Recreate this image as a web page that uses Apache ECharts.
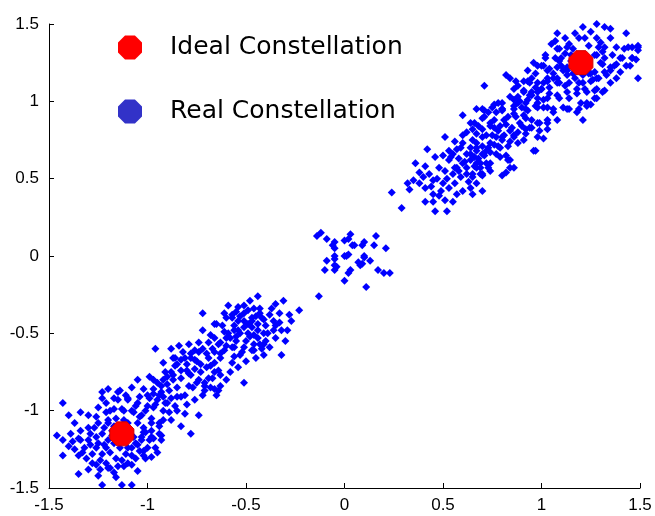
<!DOCTYPE html>
<html>
<head>
<meta charset="utf-8">
<script src="https://cdn.jsdelivr.net/npm/echarts@6/dist/echarts.min.js"></script>
<style>
  html, body { margin: 0; padding: 0; background: #ffffff; }
  #chart { width: 655px; height: 516px; }
</style>
</head>
<body>
<div id="chart"></div>
<script>
// Axis range and tick spacing (same on both axes)
const axisMin = -1.5;
const axisMax = 1.5;
const tickStep = 0.5;

// Series names shown in the legend
const seriesNames = ['Ideal Constellation', 'Real Constellation'];

// Ideal constellation points [I, Q]
const idealPoints = [[-1.13, -1.15], [1.20, 1.25]];

// Received symbols, lower-left group
const lowerCluster = [
  [-0.13,-0.26],[-0.23,-0.35],[-0.44,-0.26],[-0.35,-0.31],[-0.31,-0.29],[-0.33,-0.37],[-0.59,-0.32],[-0.54,-0.33],
  [-0.51,-0.32],[-0.48,-0.29],[-0.46,-0.34],[-0.43,-0.34],[-0.66,-0.44],[-0.57,-0.38],[-0.51,-0.37],[-0.51,-0.42],
  [-0.47,-0.42],[-0.42,-0.40],[-0.36,-0.42],[-0.33,-0.43],[-0.36,-0.48],[-0.32,-0.48],[-0.29,-0.48],[-0.41,-0.50],
  [-0.44,-0.53],[-0.40,-0.55],[-0.46,-0.57],[-0.38,-0.59],[-0.51,-0.59],[-0.46,-0.61],[-0.53,-0.50],[-0.56,-0.48],
  [-0.58,-0.53],[-0.61,-0.49],[-0.63,-0.56],[-0.66,-0.53],[-0.57,-0.59],[-0.63,-0.63],[-0.51,-0.46],[-0.47,-0.46],
  [-0.54,-0.42],[-0.32,-0.64],[-0.41,-0.64],[-0.53,-0.64],
  [-0.72,-0.37],[-0.57,-0.40],[-0.65,-0.44],[-0.56,-0.45],[-0.47,-0.40],[-0.44,-0.44],[-0.41,-0.41],[-0.72,-0.48],
  [-0.68,-0.51],[-0.59,-0.50],[-0.54,-0.48],[-0.49,-0.50],[-0.46,-0.51],[-0.41,-0.57],[-0.74,-0.56],[-0.79,-0.57],
  [-0.84,-0.58],[-0.96,-0.60],[-0.88,-0.60],[-0.76,-0.61],[-0.72,-0.60],[-0.64,-0.57],[-0.61,-0.61],[-0.56,-0.59],
  [-0.52,-0.62],[-0.47,-0.61],[-0.86,-0.66],[-0.81,-0.66],[-0.76,-0.67],[-0.69,-0.66],[-0.66,-0.69],[-0.63,-0.66],
  [-0.57,-0.69],[-0.54,-0.72],[-0.92,-0.69],[-0.91,-0.75],[-0.87,-0.77],[-0.83,-0.74],[-0.79,-0.76],[-0.76,-0.73],
  [-0.73,-0.75],[-0.70,-0.72],[-0.66,-0.75],[-0.63,-0.77],[-0.51,-0.82],[-0.97,-0.80],[-0.93,-0.84],[-0.89,-0.87],
  [-0.85,-0.85],[-0.79,-0.84],[-0.71,-0.82],[-0.68,-0.85],[-0.64,-0.87],[-0.71,-0.87],[-0.65,-0.90],[-0.63,-0.84],
  [-0.67,-0.79],[-0.97,-0.89],[-0.92,-0.91],[-0.85,-0.91],[-0.81,-0.90],[-0.78,-0.77],
  [-0.87,-0.66],[-0.83,-0.67],[-0.78,-0.66],[-0.73,-0.70],[-0.68,-0.71],[-0.64,-0.74],[-0.88,-0.75],[-0.80,-0.74],
  [-0.92,-0.80],[-0.87,-0.80],[-0.83,-0.79],[-0.75,-0.82],[-0.71,-0.84],[-0.66,-0.86],[-0.69,-0.79],[-1.20,-0.86],
  [-1.14,-0.87],[-1.08,-0.85],[-1.02,-0.86],[-0.97,-0.86],[-0.93,-0.88],[-0.88,-0.92],[-0.83,-0.91],[-1.23,-0.92],
  [-1.15,-0.93],[-1.10,-0.92],[-1.05,-0.95],[-1.00,-0.97],[-0.96,-0.96],[-0.89,-1.01],[-0.85,-1.00],[-0.81,-1.02],
  [-0.74,-1.03],[-0.88,-1.06],[-0.83,-1.10],[-0.78,-1.15],[-1.21,-1.01],[-1.17,-0.99],[-1.12,-1.00],[-1.07,-1.01],
  [-1.03,-1.03],[-0.98,-1.05],[-0.94,-1.10],[-1.20,-1.06],[-1.05,-1.08],[-1.02,-1.14],[-0.98,-1.17],[-1.03,-1.19],
  [-0.93,-1.16],
  [-1.43,-0.95],[-1.46,-1.16],[-1.43,-1.19],[-1.43,-1.29],[-1.37,-1.08],[-1.34,-1.13],[-1.30,-1.11],[-1.26,-1.04],
  [-1.25,-1.08],[-1.23,-1.15],[-1.35,-1.18],[-1.30,-1.19],[-1.26,-1.17],[-1.32,-1.24],[-1.26,-1.24],[-1.22,-1.22],
  [-1.20,-1.19],[-1.37,-1.25],[-1.31,-1.31],[-1.28,-1.34],[-1.23,-1.28],[-1.19,-1.27],[-1.16,-1.31],[-1.12,-1.36],
  [-1.08,-1.29],[-1.04,-1.26],[-1.10,-1.24],[-1.06,-1.21],[-1.03,-1.17],[-0.99,-1.19],[-0.98,-1.13],[-1.02,-1.11],
  [-0.98,-1.08],[-0.94,-1.08],[-1.04,-1.04],[-1.08,-1.00],[-1.13,-0.99],[-1.19,-1.00],[-1.23,-0.88],[-1.15,-0.88],
  [-1.10,-0.93],[-1.04,-0.91],[-0.99,-0.92],[-0.94,-0.90],[-0.92,-1.00],[-0.94,-1.15],[-0.96,-1.24],[-1.01,-1.31],
  [-1.15,-1.17],[-1.18,-1.13],[-1.20,-1.37],[-1.11,-1.28],
  [-1.35,-1.41],[-1.23,-1.48],[-1.13,-1.48],[-1.08,-1.48],[-1.16,-1.43],[-1.25,-1.42],[-1.26,-1.35],[-1.19,-1.37],
  [-1.08,-1.35],[-0.98,-1.30],[-1.02,-1.29],
  [-1.40,-1.03],[-1.34,-1.01],[-1.30,-1.03],[-1.25,-0.98],[-1.21,-0.95],[-1.17,-0.92],[-1.11,-0.90],[-1.06,-0.97],
  [-1.01,-1.00],[-0.97,-0.98],[-0.91,-0.95],[-0.92,-1.06],[-1.34,-1.19],[-1.29,-1.15],[-1.25,-1.21],[-1.21,-1.24],
  [-1.28,-1.28],[-1.24,-1.32],[-1.21,-1.34],[-1.15,-1.36],[-1.10,-1.34],[-1.06,-1.31],[-1.02,-1.26],[-1.08,-1.24],
  [-1.05,-1.22],[-1.00,-1.24],[-0.95,-1.27],[-0.97,-1.18],[-0.93,-1.19],[-1.01,-1.14],[-1.20,-1.08],[-1.16,-1.05],
  [-1.12,-1.06],[-1.10,-1.08],[-1.17,-1.21],[-1.14,-1.24],[-1.35,-1.29],[-1.40,-1.23],[-1.39,-1.15],
  [-1.00,-0.90],[-0.95,-0.93],[-0.90,-0.95],[-0.86,-0.97],[-0.90,-0.83],[-0.95,-0.82],[-0.99,-0.78],[-1.05,-0.80],
  [-0.85,-0.70],[-0.80,-0.70],[-0.75,-0.68],[-0.70,-0.63],[-0.66,-0.62],[-0.60,-0.53],[-0.55,-0.55],[-0.50,-0.55],
  [-0.48,-0.52],[-0.44,-0.48],[-0.40,-0.45],[-0.38,-0.38],[-0.43,-0.37],[-0.49,-0.35],[-0.55,-0.36],[-0.60,-0.40],
  [-0.62,-0.45],[-0.69,-0.56],[-0.74,-0.62],[-0.78,-0.63],[-0.82,-0.62],[-0.86,-0.71],[-0.74,-0.80],[-0.77,-0.85],
  [-0.72,-0.90],[-0.76,-0.93],[-0.80,-0.96],[-0.90,-0.78],[-0.58,-0.75],[-0.60,-0.80],[-0.56,-0.65],[-0.50,-0.68],
  [-0.45,-0.66],[-0.42,-0.60],[-0.35,-0.53],[-0.30,-0.55],[-0.27,-0.42],[-0.37,-0.34],[-0.28,-0.38],
  [-1.17,-1.10],[-1.14,-1.12],[-1.09,-1.13],[-1.07,-1.17],[-1.12,-1.20],[-1.18,-1.16],[-1.22,-1.11],[-1.27,-1.11],
  [-1.29,-1.22],[-1.33,-1.27],[-1.24,-1.38],[-1.17,-1.40],[-1.13,-1.32],[-1.05,-1.39],[-1.30,-1.38],[-1.38,-1.20],
  [-0.49,-0.44],[-0.45,-0.39],[-0.39,-0.50],[-0.43,-0.57],[-0.55,-0.52],[-0.60,-0.58],[-0.67,-0.60],[-0.53,-0.39],
  [-0.61,-0.37],[-0.35,-0.45]
];

// Received symbols near the origin
const centerCluster = [
  [-0.14,0.13],[-0.12,0.15],[-0.09,0.11],[-0.06,0.07],[-0.05,0.05],[-0.05,0.09],[0.00,0.10],[0.02,0.11],
  [0.03,0.14],[0.04,0.07],[0.05,0.07],[0.09,0.07],[0.10,0.09],[0.16,0.13],[0.15,0.07],[0.21,0.05],
  [-0.09,-0.03],[-0.05,0.00],[-0.05,-0.02],[-0.05,-0.06],[-0.05,-0.09],[-0.10,-0.09],[-0.04,-0.07],[0.00,0.00],
  [0.02,0.01],[0.01,0.00],[0.03,-0.09],[0.02,-0.11],[0.07,-0.04],[0.08,-0.06],[0.10,-0.01],[0.10,0.00],
  [0.13,-0.03],[0.09,-0.05],[0.17,-0.09],[0.20,-0.11],[0.23,-0.11],[0.00,-0.16],[0.11,-0.20]
];

// Received symbols, upper-right group
const upperCluster = [
  [0.24,0.41],[0.29,0.31],[0.32,0.47],[0.35,0.49],[0.36,0.60],[0.41,0.58],[0.38,0.54],[0.42,0.69],
  [0.46,0.64],[0.50,0.65],[0.55,0.66],[0.59,0.70],[0.60,0.73],[0.40,0.51],[0.43,0.53],[0.45,0.49],
  [0.41,0.44],[0.45,0.40],[0.48,0.39],[0.41,0.35],[0.45,0.35],[0.51,0.36],[0.55,0.35],[0.46,0.29],
  [0.52,0.29],[0.48,0.57],[0.51,0.55],[0.55,0.53],[0.56,0.57],[0.60,0.60],[0.59,0.51],[0.62,0.53],
  [0.50,0.47],[0.53,0.44],[0.56,0.47],[0.60,0.42],[0.64,0.44],[0.67,0.47],[0.65,0.53],[0.69,0.57],
  [0.70,0.53],[0.70,0.42],[0.64,0.62],[0.67,0.68],[0.64,0.70],[0.70,0.66],[0.74,0.73],[0.74,0.60],
  [0.53,0.62],[0.65,0.40],
  [0.60,0.91],[0.64,0.86],[0.62,0.80],[0.67,0.79],[0.70,0.95],[0.71,0.90],[0.74,0.86],[0.80,0.99],
  [0.77,0.93],[0.80,0.95],[0.83,0.90],[0.76,0.83],[0.78,0.81],[0.77,0.77],[0.81,0.78],[0.84,0.81],
  [0.86,0.77],[0.88,1.03],[0.90,0.96],[0.91,0.91],[0.92,0.99],[0.95,1.04],[0.98,1.06],[1.01,1.01],
  [0.97,0.97],[0.94,0.83],[0.99,0.86],[1.03,0.86],[0.89,0.86],[0.70,0.71],[0.74,0.67],[0.79,0.70],
  [0.67,0.73],[0.64,0.66],[0.57,0.69],[0.54,0.64],[0.57,0.57],[0.61,0.61],[0.67,0.60],[0.72,0.60],
  [0.79,0.64],[0.84,0.62],[0.82,0.54],[0.86,0.57],[0.97,0.68],[0.69,0.53],[0.74,0.55],[0.51,0.77],
  [0.84,1.15],[0.88,1.10],[0.93,1.13],[0.97,1.09],[1.00,1.23],[1.02,1.28],[1.08,1.44],[1.07,1.39],
  [1.09,1.34],[1.13,1.35],[1.10,1.28],[1.15,1.30],[1.17,1.44],[1.21,1.48],[1.22,1.41],[1.19,1.41],
  [1.28,1.50],[1.32,1.48],[1.35,1.47],[1.28,1.41],[1.30,1.38],[1.35,1.41],[1.43,1.44],[1.42,1.34],
  [1.46,1.35],[1.49,1.36],[1.49,1.33],[1.40,1.28],[1.46,1.28],[1.48,1.27],[1.45,1.23],[1.49,1.15],
  [1.37,1.23],[1.35,1.20],[1.30,1.25],[1.27,1.30],[1.31,1.32],[1.24,1.36],[1.33,1.17],[1.28,1.15],
  [1.25,1.18],[1.21,1.12],[1.17,1.15],[1.13,1.20],[1.10,1.23],[1.04,1.21],[1.03,1.15],[1.08,1.12],
  [1.12,1.10],[1.18,1.08],[1.23,1.06],[1.28,1.08],[1.31,1.06],[1.38,1.15],[1.00,1.08],[1.04,1.05],
  [1.09,1.02],[1.14,1.02],[1.20,0.99],[1.25,0.98],[1.27,1.02],[0.94,1.04],[0.98,0.99],[0.89,1.00],
  [0.86,0.97],[0.92,0.95],[1.01,0.96],[1.06,0.95],[1.13,0.95],[1.18,0.93],[0.80,0.94],
  [1.05,1.37],[1.08,1.34],[1.14,1.37],[1.16,1.34],[1.12,1.31],[1.07,1.28],[1.09,1.26],[1.02,1.30],
  [1.01,1.23],[0.98,1.23],[0.97,1.18],[1.03,1.20],[1.08,1.22],[1.11,1.20],[1.13,1.22],[1.06,1.15],
  [1.03,1.13],[1.08,1.15],[1.13,1.17],[1.16,1.18],[1.21,1.17],[1.24,1.18],[1.27,1.19],[1.25,1.13],
  [1.29,1.15],[1.32,1.19],[1.35,1.22],[1.31,1.24],[1.28,1.30],[1.29,1.35],[1.32,1.35],[1.32,1.28],
  [1.38,1.35],[1.44,1.35],[1.49,1.35],[1.41,1.28],[1.46,1.28],[1.38,1.24],[1.43,1.23],[0.82,1.17],
  [0.91,1.13],[0.94,1.12],[0.98,1.12],[0.71,1.10],[0.86,1.08],[0.91,1.06],[0.95,1.06],[1.00,1.08],
  [1.04,1.09],[1.09,1.12],[1.14,1.12],[1.19,1.12],[1.22,1.08],[1.27,1.07],[1.32,1.07],[1.28,1.02],
  [1.23,0.99],[1.18,1.05],[1.13,1.06],[1.08,1.04],[1.03,1.02],[0.98,1.02],[0.93,1.01],[0.88,0.99],
  [0.86,1.01],[0.78,0.99],[0.75,0.96],[0.67,0.95],[0.71,0.94],[0.80,0.95],[0.86,0.95],[0.93,0.94],
  [0.98,0.96],[1.03,0.96],[1.06,0.93],[1.11,0.96],[1.14,0.95],[1.19,0.95],[1.23,0.97],[1.21,0.88],
  [1.08,0.88],[1.03,0.88],[0.98,0.86],[0.92,0.89],[0.87,0.90],[0.81,0.88],[0.76,0.88],[0.70,0.89],
  [0.66,0.86],[0.65,0.82],[0.70,0.82],[0.74,0.84],[0.79,0.84],[0.85,0.83],[0.90,0.84],[0.95,0.83],
  [0.99,0.81],[1.03,0.82],[1.01,0.76],[0.98,0.77],[0.92,0.79],[0.86,0.78],[0.80,0.77],[0.75,0.78],
  [0.70,0.77],[0.65,0.75],[0.67,0.70],[0.73,0.70],[0.78,0.71],[0.83,0.71],[0.88,0.73],[0.91,0.75],
  [0.96,0.68],[0.82,0.65],[0.77,0.66],[0.71,0.65],[0.66,0.64],[0.69,0.60],[0.83,0.62],[0.84,0.57],
  [0.73,0.57],[0.67,0.57],[0.80,0.52],[0.70,0.52],[0.65,0.51],
  [0.44,0.45],[0.47,0.50],[0.52,0.50],[0.58,0.55],[0.62,0.57],[0.66,0.58],[0.63,0.48],[0.57,0.40],
  [0.49,0.42],[0.38,0.47],[0.33,0.43],[0.53,0.68],[0.58,0.63],[0.62,0.66],[0.68,0.63],[0.72,0.68],
  [0.76,0.72],[0.80,0.75],[0.84,0.74],[0.88,0.80],[0.92,0.82],[0.95,0.88],[0.86,0.92],[0.82,0.85],
  [0.72,0.78],[0.68,0.84],[0.60,0.78],[0.56,0.74],[0.73,0.93],[0.76,0.98],[0.84,1.03],[0.91,1.07],
  [0.87,1.13],[0.93,1.20],[0.96,1.25],
  [1.15,1.26],[1.18,1.20],[1.23,1.22],[1.26,1.14],[1.35,1.12],[1.40,1.19],[1.06,1.18],[1.01,1.12],
  [0.95,1.15],[1.12,1.41],[1.25,1.45],[1.36,1.30]
];

const receivedPoints = lowerCluster.concat(centerCluster, upperCluster);

const octagon = 'path://M29.3,0 L70.7,0 L100,29.3 L100,70.7 L70.7,100 L29.3,100 L0,70.7 L0,29.3 Z';
const tickFont = 'Liberation Sans, Arial, Helvetica, sans-serif';
const legendFont = 'DejaVu Sans, Verdana, sans-serif';

function valueAxis(labelMargin) {
  return {
    type: 'value',
    min: axisMin,
    max: axisMax,
    interval: tickStep,
    axisLine: { show: true, onZero: false, lineStyle: { color: '#000000', width: 1 } },
    axisTick: { show: true, inside: true, length: 5, lineStyle: { color: '#000000', width: 1 } },
    axisLabel: { color: '#000000', fontSize: 17, fontFamily: tickFont, margin: labelMargin },
    splitLine: { show: false }
  };
}

const chart = echarts.init(document.getElementById('chart'), null, { renderer: 'canvas' });
chart.setOption({
  animation: false,
  backgroundColor: '#ffffff',
  grid: { left: 49, right: 15, top: 24, bottom: 28, containLabel: false },
  xAxis: valueAxis(9),
  yAxis: valueAxis(10),
  legend: {
    orient: 'vertical',
    left: 113,
    top: 30,
    itemWidth: 70,
    itemHeight: 24,
    itemGap: 39,
    symbolKeepAspect: true,
    selectedMode: false,
    textStyle: { color: '#000000', fontSize: 25, fontFamily: legendFont, lineHeight: 24 },
    data: [
      { name: seriesNames[0], icon: octagon, itemStyle: { color: '#ff0000', borderWidth: 0, opacity: 1 } },
      { name: seriesNames[1], icon: octagon, itemStyle: { color: '#3232c8', borderWidth: 0, opacity: 1 } }
    ]
  },
  series: [
    {
      name: seriesNames[1],
      type: 'scatter',
      symbol: 'diamond',
      symbolSize: 8,
      itemStyle: { color: '#0000ff', opacity: 1 },
      data: receivedPoints,
      z: 2
    },
    {
      name: seriesNames[0],
      type: 'scatter',
      symbol: octagon,
      symbolSize: 24,
      itemStyle: { color: '#ff0000', borderColor: '#d40000', borderWidth: 1, opacity: 1 },
      data: idealPoints,
      z: 3
    }
  ]
});
</script>
</body>
</html>
